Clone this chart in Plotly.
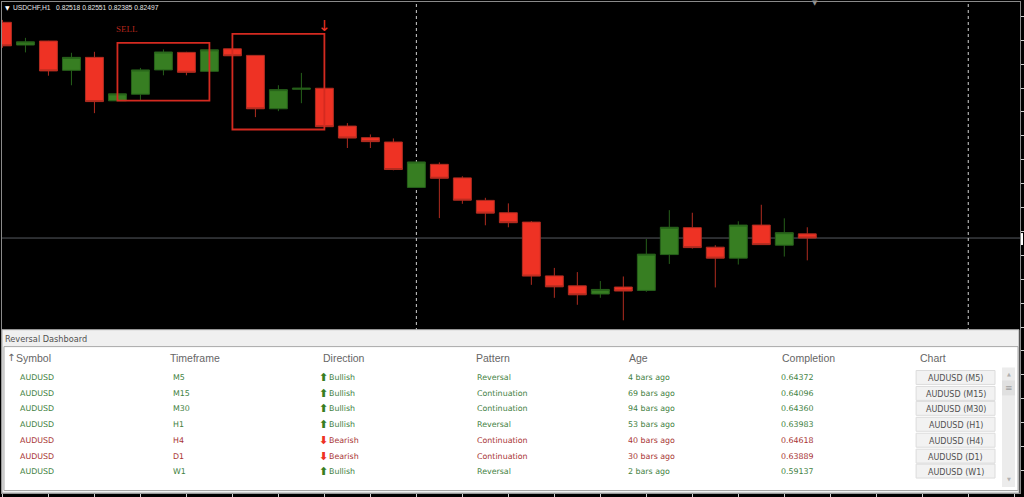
import plotly.graph_objects as go

# USDCHF H1 candles
opens = [0.83580, 0.83466, 0.83486, 0.83339, 0.83404, 0.83186, 0.83219, 0.83341, 0.83429, 0.83334, 0.83447, 0.83414,
         0.83146, 0.83244, 0.83249, 0.83059, 0.83001, 0.82979, 0.82751, 0.82867, 0.82799, 0.82686, 0.82624, 0.82577,
         0.82307, 0.82257, 0.82216, 0.82251, 0.82234, 0.82414, 0.82549, 0.82451, 0.82396, 0.82562, 0.82461, 0.82518]
highs = [0.83592, 0.83502, 0.83487, 0.83427, 0.83432, 0.83222, 0.83351, 0.83444, 0.83432, 0.83442, 0.83447, 0.83414,
         0.83264, 0.83326, 0.83249, 0.83074, 0.83017, 0.82997, 0.82879, 0.82877, 0.82807, 0.82699, 0.82671, 0.82582,
         0.82347, 0.82326, 0.82281, 0.82304, 0.82492, 0.82637, 0.82624, 0.82461, 0.82581, 0.82664, 0.82596, 0.82551]
lows = [0.83452, 0.83429, 0.83312, 0.83264, 0.83124, 0.83185, 0.83187, 0.83314, 0.83314, 0.83334, 0.83412, 0.83104,
        0.83134, 0.83174, 0.83056, 0.82949, 0.82949, 0.82837, 0.82751, 0.82597, 0.82669, 0.82561, 0.82551, 0.82262,
        0.82197, 0.82162, 0.82197, 0.82084, 0.82227, 0.82367, 0.82444, 0.82249, 0.82364, 0.82464, 0.82404, 0.82385]
closes = [0.83462, 0.83482, 0.83336, 0.83404, 0.83182, 0.83221, 0.83341, 0.83431, 0.83329, 0.83442, 0.83412, 0.83146,
          0.83242, 0.83249, 0.83056, 0.82999, 0.82981, 0.82841, 0.82879, 0.82797, 0.82687, 0.82622, 0.82574, 0.82306,
          0.82252, 0.82212, 0.82239, 0.82231, 0.82416, 0.82551, 0.82449, 0.82396, 0.82562, 0.82464, 0.82524, 0.82497]
bars = list(range(len(opens)))

# pattern boxes: first bar, last bar, top price, bottom price
box_start = [5, 10]
box_end = [9, 14]
box_top = [0.83477, 0.83522]
box_bottom = [0.83187, 0.83042]
period_seps = [18, 42]

header_text = "USDCHF,H1&nbsp;&nbsp; 0.82518 0.82551 0.82385 0.82497"

# dashboard table
col_names = ["Symbol", "Timeframe", "Direction", "Pattern", "Age", "Completion", "Chart"]
symbols = ["AUDUSD"] * 7
timeframes = ["M5", "M15", "M30", "H1", "H4", "D1", "W1"]
directions = ["Bullish", "Bullish", "Bullish", "Bullish", "Bearish", "Bearish", "Bullish"]
patterns = ["Reversal", "Continuation", "Continuation", "Reversal", "Continuation", "Continuation", "Reversal"]
ages = ["4 bars ago", "69 bars ago", "94 bars ago", "53 bars ago", "40 bars ago", "30 bars ago", "2 bars ago"]
completions = ["0.64372", "0.64096", "0.64360", "0.63983", "0.64618", "0.63889", "0.59137"]

RED = "#ee3224"
GREEN = "#377e22"
TEXT_GREEN = "#3f7f3f"
TEXT_RED = "#a83434"
FONT = "DejaVu Sans"


# panel is placed in window pixels, chart marks stay on the price axes
def px(x):
    return (x - 2) / 1019


def py(y):
    return 1 - (y - 1) / 493


def rect(x0, y0, x1, y1, fill, line=None):
    return dict(type="rect", xref="paper", yref="paper", x0=px(x0), x1=px(x1), y0=py(y0), y1=py(y1),
                fillcolor=fill, line=dict(color=line or fill, width=1 if line else 0), layer="above")


def label(x, y, text, color, size=7.9, family=FONT, anchor="left"):
    # annotations carry about 2px of padding on the left
    if anchor == "left":
        x = x - 2
    return dict(xref="paper", yref="paper", x=px(x), y=py(y + 1), text=text, showarrow=False, xanchor=anchor,
                yanchor="middle", font=dict(color=color, size=size, family=family))


fig = go.Figure()
fig.add_trace(go.Candlestick(
    x=bars, open=opens, high=highs, low=lows, close=closes,
    increasing=dict(line=dict(color="#26601a", width=1), fillcolor=GREEN),
    decreasing=dict(line=dict(color="#b02c20", width=1), fillcolor=RED),
    whiskerwidth=0, hoverinfo="skip", showlegend=False,
))

shapes = []
# bid line and period separators sit behind the candles
shapes.append(dict(type="line", xref="paper", x0=0, x1=1, y0=closes[-1], y1=closes[-1],
                   line=dict(color="#565a60", width=1), layer="below"))
for sep in period_seps:
    shapes.append(dict(type="line", yref="paper", x0=sep, x1=sep, y0=0, y1=1,
                       line=dict(color="#d0d0d0", width=1, dash="3px,3px"), layer="below"))
for i in range(len(box_start)):
    shapes.append(dict(type="rect", x0=box_start[i], x1=box_end[i], y0=box_bottom[i], y1=box_top[i],
                       line=dict(color="#d42a20", width=1.8), layer="above"))

# dashboard panel
shapes.append(rect(2, 330, 1020, 494, "#f0f0f0", "#a8a8a8"))
shapes.append(rect(4, 347, 1019, 491.5, "#ffffff", "#a8a8a8"))
btn_y = [378, 394, 409, 425, 441, 457, 472]
row_y = [377, 393, 408, 424, 440, 456, 471]
for y in btn_y:
    shapes.append(rect(917, y - 7, 996, y + 7, "#f2f2f2", "#dcdcdc"))
shapes.append(rect(1003, 368, 1016, 488, "#ececec"))
shapes.append(rect(1003, 381, 1016, 396, "#e0e0e0"))
# price label stub on the right axis
shapes.append(rect(1022, 233, 1024, 245, "#ffffff"))

annotations = [
    label(5, 6, "▼", "#ffffff", 6),
    label(13, 5.5, header_text, "#e8e8e8", 6.7, "Liberation Sans"),
    label(816, 1.5, "▼", "#909090", 7, anchor="center"),
    label(5, 338, "Reversal Dashboard", "#505050", 8.2),
    dict(x=5, y=0.83547, xshift=-3, text="SELL", showarrow=False, xanchor="left", yanchor="middle",
         font=dict(color="#b5261c", size=9, family="Liberation Serif")),
    dict(x=14, y=0.83560, text="↓", showarrow=False, xanchor="center", yanchor="middle",
         font=dict(color=RED, size=15, family=FONT)),
    label(7, 357, "↑", "#606060", 10),
    label(1009.5, 374, "▲", "#b0b0b0", 5, anchor="center"),
    label(1009.5, 388, "≡", "#a0a0a0", 9, anchor="center"),
    label(1009.5, 479, "▼", "#b0b0b0", 5, anchor="center"),
]

col_x = [16, 170, 323, 476, 630, 783, 921]
for i in range(len(col_names)):
    annotations.append(label(col_x[i], 357, col_names[i], "#666666", 10.5, "Liberation Sans"))

for i in range(len(symbols)):
    y = row_y[i]
    bull = directions[i] == "Bullish"
    c = TEXT_GREEN if bull else TEXT_RED
    annotations.append(label(20, y, symbols[i], c))
    annotations.append(label(173, y, timeframes[i], c))
    annotations.append(label(319, y, "<b>⬆</b>" if bull else "<b>⬇</b>", GREEN if bull else RED, 11))
    annotations.append(label(329, y, directions[i], c))
    annotations.append(label(477, y, patterns[i], c))
    annotations.append(label(629, y, ages[i], c))
    annotations.append(label(782, y, completions[i], c))
    annotations.append(label(956.5, btn_y[i], symbols[i] + " (" + timeframes[i] + ")", "#505050", 8, anchor="center"))

fig.update_layout(
    width=1024, height=497,
    margin=dict(l=2, r=3, t=1, b=3),
    paper_bgcolor="#000000", plot_bgcolor="#000000",
    boxgap=0.22, boxgroupgap=0,
    shapes=shapes, annotations=annotations,
    showlegend=False,
)
fig.update_xaxes(range=[-0.02, 44.25], rangeslider_visible=False, showgrid=False, zeroline=False,
                 showline=True, mirror=True, linecolor="#8a8a8a", linewidth=1,
                 ticks="outside", ticklen=3, tickcolor="#d0d0d0", tick0=0, dtick=2, showticklabels=False)
fig.update_yaxes(range=[0.81217, 0.83682], side="right", showgrid=False, zeroline=False,
                 showline=True, mirror=True, linecolor="#8a8a8a", linewidth=1,
                 ticks="outside", ticklen=3, tickcolor="#d0d0d0", tick0=0.8265, dtick=0.0012, showticklabels=False)

fig.write_html("out.html", config=dict(displayModeBar=False),
               post_script="document.body.style.margin='0';document.body.style.overflow='hidden';")
